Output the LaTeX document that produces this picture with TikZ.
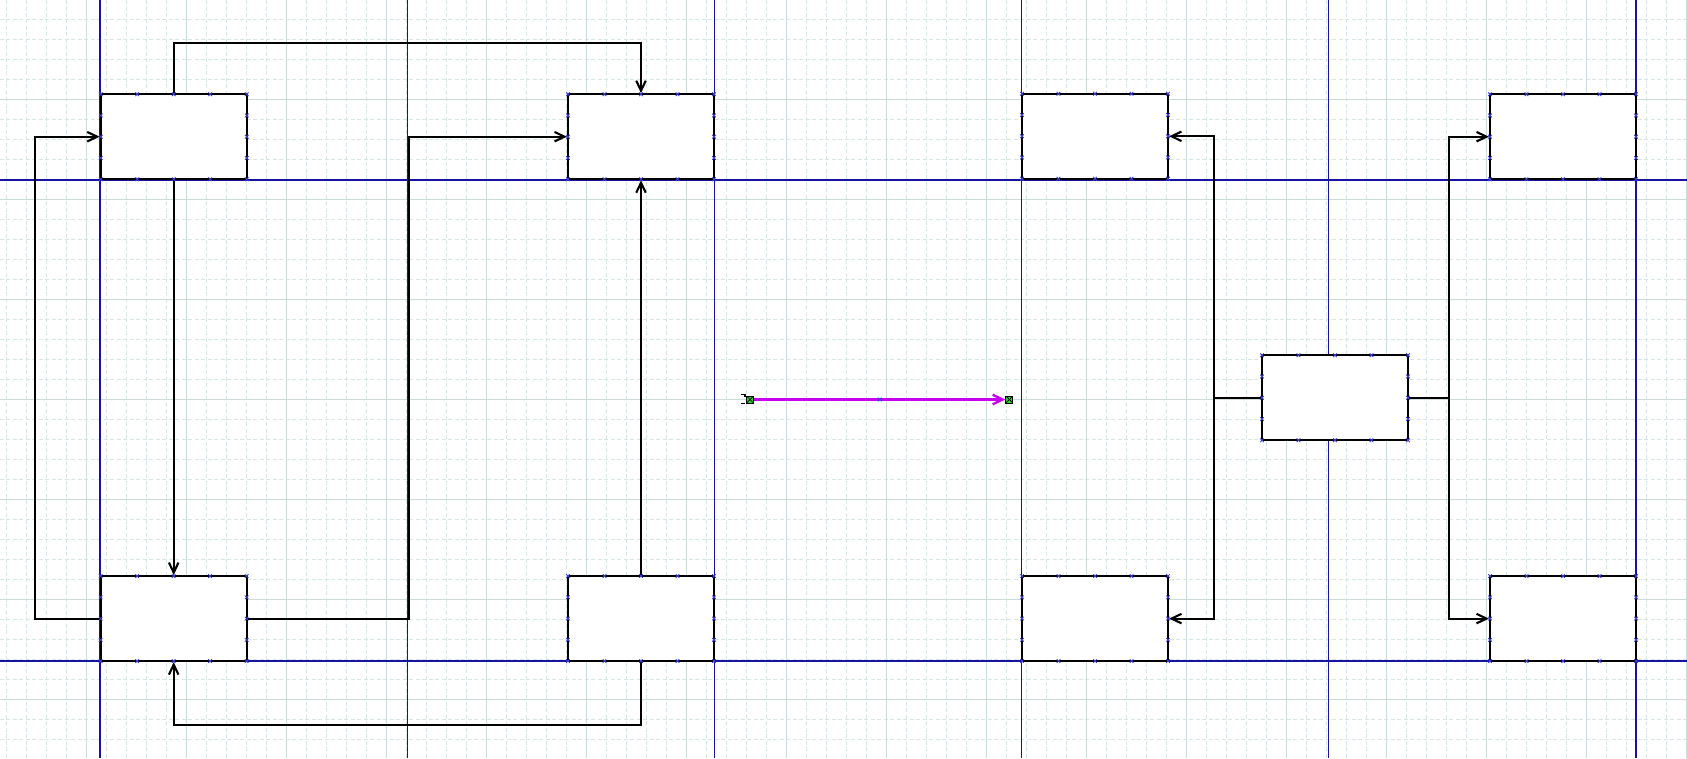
\documentclass[tikz,border=0pt]{standalone}
\usepackage{xcolor}
\usetikzlibrary{arrows.meta, calc}
\definecolor{gridmajor}{HTML}{CCDDD9}
\definecolor{gridminor}{HTML}{D8E6E2}
\definecolor{pageblue}{HTML}{1414A0}
\definecolor{markblue}{HTML}{3C3CE0}
\definecolor{flowpink}{HTML}{C800F0}
\definecolor{portgreen}{HTML}{2BD62B}

\begin{document}
\begin{tikzpicture}[
    x=0.02cm, y=-0.02cm,
    box/.style={rectangle, draw=black, fill=white, line width=1.2pt,
                minimum width=2.92cm, minimum height=1.7cm, inner sep=0pt},
    link/.style={-{Straight Barb[length=0.2cm, width=0.19cm]}, line width=1.2pt},
    wire/.style={line width=1.2pt},
    flow/.style={-{Straight Barb[length=0.2cm, width=0.19cm]}, line width=1.3pt, flowpink},
    port/.style={rectangle, draw=black, fill=portgreen, line width=0.5pt,
                 minimum size=0.14cm, inner sep=0pt,
                 path picture={\draw[black, line width=0.4pt]
                   (path picture bounding box.north west) -- (path picture bounding box.south east)
                   (path picture bounding box.north east) -- (path picture bounding box.south west);}},
    cpoint/.style={markblue, line width=0.5pt},
    minorgrid/.style={gridminor, line width=0.5pt, dash pattern=on 0.08cm off 0.05cm},
    majorgrid/.style={gridmajor, line width=0.6pt},
    pagebreak/.style={pageblue, line width=0.6pt}
  ]
    \fill[white] (0,0) rectangle (1687,758);
    \useasboundingbox (0,0) rectangle (1687,758);

    % background grid
    \foreach \k in {0,...,84} \draw[minorgrid] (6.7+20*\k,0) -- (6.7+20*\k,758);
    \foreach \k in {0,...,37} \draw[minorgrid] (0,19.3+20*\k) -- (1687,19.3+20*\k);
    \foreach \k in {0,...,16} \draw[majorgrid] (86.7+100*\k,0) -- (86.7+100*\k,758);
    \foreach \k in {0,...,6} \draw[majorgrid] (0,99.3+100*\k) -- (1687,99.3+100*\k);

    % page breaks
    \foreach \k in {0,...,5} \draw[pagebreak] (100+307.2*\k,0) -- (100+307.2*\k,758);
    \foreach \k in {180,661} \draw[pagebreak] (0,\k) -- (1687,\k);

    \node[box] (a) at (173.7,136.7) {};
    \node[box] (b) at (641,136.7) {};
    \node[box] (c) at (173.7,618.6) {};
    \node[box] (d) at (641,618.6) {};
    \node[box] (e) at (1095,136.3) {};
    \node[box] (f) at (1095,618.6) {};
    \node[box] (g) at (1335,397.7) {};
    \node[box] (h) at (1563,136.7) {};
    \node[box] (i) at (1563,618.6) {};

    \draw[link] (a.north) -- ++(0,-50) -| (b.north);
    \draw[link] (a.south) -- (c.north);
    \draw[link] (c.west) -- ++(-65,0) |- (a.west);
    \draw[link] (c.east) -- ++(161.5,0) |- (b.west);
    \draw[link] (d.north) -- (b.south);
    \draw[link] (d.south) -- ++(0,63) -| (c.south);

    \draw[wire] (g.west) -- ++(-47,0) coordinate (jl);
    \draw[link] (jl) |- (e.east);
    \draw[link] (jl) |- (f.east);
    \draw[wire] (g.east) -- ++(40,0) coordinate (jr);
    \draw[link] (jr) |- (h.west);
    \draw[link] (jr) |- (i.west);

    % connection points
    \foreach \n in {a,b,c,d,e,f,g,h,i}
      \foreach \dx/\dy in {-73/-42.5, -36.5/-42.5, 0/-42.5, 36.5/-42.5, 73/-42.5,
                           73/-21.25, 73/0, 73/21.25, 73/42.5, 36.5/42.5, 0/42.5,
                           -36.5/42.5, -73/42.5, -73/21.25, -73/0, -73/-21.25}
        \draw[cpoint] ($(\n)+(\dx,\dy)$) +(-1.8,-1.8) -- +(1.8,1.8) +(-1.8,1.8) -- +(1.8,-1.8);

    \node[port] (src) at (750,399.5) {};
    \node[port] (dst) at (1009.3,399.5) {};
    \draw[flow] (src) -- (dst);
    \draw[line width=0.6pt] (src) ++(-9,-5) -- ++(4,0) -- ++(0,2) (src) ++(-9,4) -- ++(4,0);
    \draw[cpoint] ($(src)!0.5!(dst)$) +(-1.8,-1.8) -- +(1.8,1.8) +(-1.8,1.8) -- +(1.8,-1.8);
\end{tikzpicture}
\end{document}
